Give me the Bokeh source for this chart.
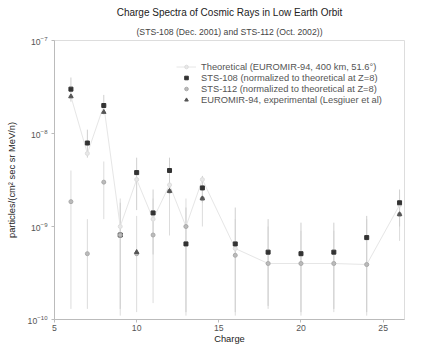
from bokeh.plotting import figure
from bokeh.models import Title, Range1d, FixedTicker, Legend, LegendItem
from bokeh.embed import file_html
from bokeh.resources import INLINE

# Data
charge = [6, 7, 8, 9, 10, 11, 12, 13, 14, 16, 18, 20, 22, 24, 26]
theory = [2.5e-8, 6.1e-9, 2.0e-8, 1.0e-9, 3.2e-9, 1.2e-9, 2.8e-9, 1.0e-9, 3.2e-9,
          5.8e-10, 4.0e-10, 4.0e-10, 4.0e-10, 3.9e-10, 1.7e-9]
sts108 = [3.0e-8, 7.9e-9, 2.0e-8, 8.1e-10, 3.8e-9, 1.4e-9, 4.0e-9, 6.5e-10, 2.6e-9,
          6.5e-10, 5.3e-10, 5.1e-10, 5.3e-10, 7.6e-10, 1.8e-9]
sts108_lo = [2.2e-8, 5.5e-9, 1.6e-8, 1.3e-10, 1.5e-9, 5.0e-10, 2.5e-9, 1.2e-10, 1.8e-9,
             1.2e-10, 1.4e-10, 1.2e-10, 1.3e-10, 1.2e-10, 1.0e-9]
sts108_hi = [4.0e-8, 1.1e-8, 2.6e-8, 1.8e-9, 5.5e-9, 2.5e-9, 5.5e-9, 1.6e-9, 3.5e-9,
             1.6e-9, 1.2e-9, 1.1e-9, 1.1e-9, 1.3e-9, 2.5e-9]
sts112 = [1.85e-9, 5.1e-10, 3.0e-9, 8.1e-10, 5.1e-10, 8.1e-10, 2.4e-9, 1.0e-9, 2.0e-9,
          4.9e-10, 4.0e-10, 4.0e-10, 4.0e-10, 3.9e-10, 1.35e-9]
sts112_lo = [1.3e-10, 1.3e-10, 1.2e-9, 1.1e-10, 1.2e-10, 1.5e-10, 8.0e-10, 1.1e-10, 1.0e-9,
             1.1e-10, 1.3e-10, 1.1e-10, 1.2e-10, 1.1e-10, 7.0e-10]
sts112_hi = [4.0e-9, 1.2e-9, 5.0e-9, 2.0e-9, 1.3e-9, 2.0e-9, 4.0e-9, 2.0e-9, 3.2e-9,
             1.2e-9, 1.0e-9, 9.0e-10, 9.0e-10, 1.2e-9, 2.0e-9]
euro_charge = [6, 8, 10, 12, 14, 26]
euromir = [2.5e-8, 1.7e-8, 5.3e-10, 2.4e-9, 2.0e-9, 1.35e-9]

p = figure(width=408, height=346, y_axis_type="log", output_backend="svg",
           toolbar_location=None, min_border_left=54, min_border_right=4,
           min_border_top=0, min_border_bottom=0,
           x_range=Range1d(5, 26.3), y_range=Range1d(1e-10, 1e-7))
p.outline_line_color = "#dddddd"
p.grid.visible = False

sub = Title(text="(STS-108 (Dec. 2001) and STS-112 (Oct. 2002))", align="center",
            text_font="Liberation Sans", text_font_size="6.5pt", text_font_style="normal",
            text_color="#444444", standoff=7)
ttl = Title(text="Charge Spectra of Cosmic Rays in Low Earth Orbit", align="center",
            text_font="Liberation Sans", text_font_size="7.5pt", text_font_style="normal",
            text_color="#222222", standoff=8)
p.add_layout(sub, "above")
p.add_layout(ttl, "above")

# error bars
p.segment(x0=charge, y0=sts112_lo, x1=charge, y1=sts112_hi, line_color="#dcdcdc", line_width=1)
p.segment(x0=charge, y0=sts108_lo, x1=charge, y1=sts108_hi, line_color="#cfcfcf", line_width=1)

r_th_line = p.line(charge, theory, line_color="#e6e6e6", line_width=1)
r_th = p.scatter(charge, theory, size=4, marker="circle", fill_color="#e8e8e8", line_color="#dddddd")
r_108 = p.scatter(charge, sts108, size=4, marker="square", fill_color="#333333", line_color="#333333")
r_112 = p.scatter(charge, sts112, size=4, marker="circle", fill_color="#bbbbbb", line_color="#aaaaaa")
r_eu = p.scatter(euro_charge, euromir, size=4.5, marker="triangle", fill_color="#555555", line_color="#555555")

legend = Legend(items=[
    LegendItem(label="Theoretical (EUROMIR-94, 400 km, 51.6°)", renderers=[r_th_line, r_th]),
    LegendItem(label="STS-108 (normalized to theoretical at Z=8)", renderers=[r_108]),
    LegendItem(label="STS-112 (normalized to theoretical at Z=8)", renderers=[r_112]),
    LegendItem(label="EUROMIR-94, experimental (Lesgiuer et al)", renderers=[r_eu]),
], location=(122, 214), border_line_color=None, background_fill_alpha=0,
   label_text_font="Liberation Sans", label_text_font_size="7pt", label_text_color="#555555",
   glyph_width=20, glyph_height=9, label_height=11, spacing=0, padding=0, margin=0,
   label_standoff=5)
p.add_layout(legend)

p.xaxis.ticker = FixedTicker(ticks=[5, 10, 15, 20, 25])
p.yaxis.ticker = FixedTicker(ticks=[1e-10, 1e-9, 1e-8, 1e-7], minor_ticks=[])
p.xaxis.minor_tick_line_color = None
p.yaxis.minor_tick_line_color = None
for ax in (p.xaxis, p.yaxis):
    ax.axis_line_color = "#bbbbbb"
    ax.major_tick_line_color = "#bbbbbb"
    ax.major_tick_out = 3
    ax.major_tick_in = 0
    ax.major_label_text_font = "Liberation Sans"
    ax.major_label_text_font_size = "6.5pt"
    ax.major_label_text_color = "#555555"
    ax.axis_label_text_font = "Liberation Sans"
    ax.axis_label_text_font_size = "7pt"
    ax.axis_label_text_font_style = "normal"
    ax.axis_label_text_color = "#222222"
p.xaxis.axis_label = "Charge"
p.yaxis.axis_label = "particles/(cm² sec sr MeV/n)"
p.xaxis.axis_label_standoff = 0
p.xaxis.major_label_standoff = 2
p.yaxis.axis_label_standoff = 8
p.yaxis.major_label_standoff = 4

open("out.html", "w").write(file_html(p, INLINE))
